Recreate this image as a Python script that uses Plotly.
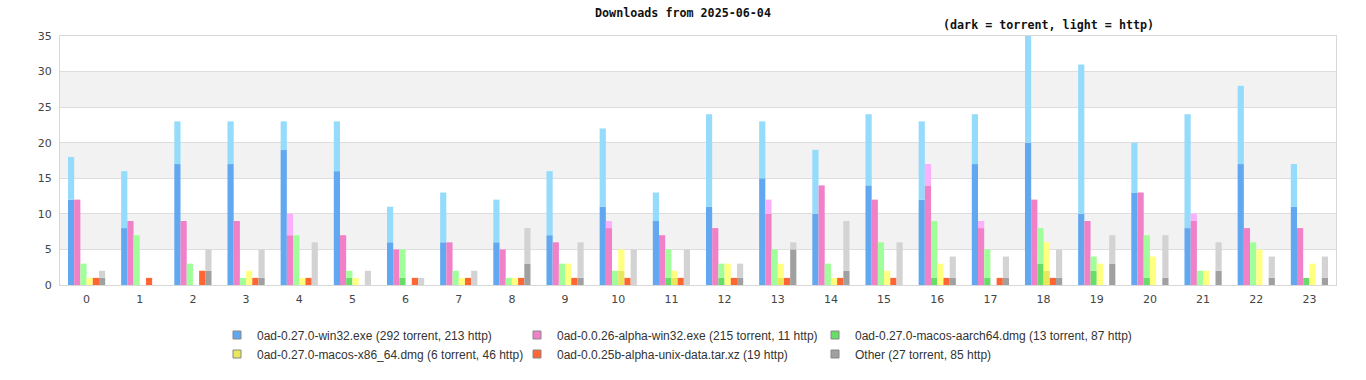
import plotly.graph_objects as go

hours = list(range(24))

series_names = [
    "0ad-0.27.0-win32.exe (292 torrent, 213 http)",
    "0ad-0.0.26-alpha-win32.exe (215 torrent, 11 http)",
    "0ad-0.27.0-macos-aarch64.dmg (13 torrent, 87 http)",
    "0ad-0.27.0-macos-x86_64.dmg (6 torrent, 46 http)",
    "0ad-0.0.25b-alpha-unix-data.tar.xz (19 http)",
    "Other (27 torrent, 85 http)",
]

# torrent counts per hour
win32_torrent = [12, 8, 17, 17, 19, 16, 6, 6, 6, 7, 11, 9, 11, 15, 10, 14, 12, 17, 20, 10, 13, 8, 17, 11]
alpha26_torrent = [12, 9, 9, 9, 7, 7, 5, 6, 5, 6, 8, 7, 8, 10, 14, 12, 14, 8, 12, 9, 13, 9, 8, 8]
aarch64_torrent = [0, 0, 0, 0, 0, 1, 1, 0, 0, 0, 0, 1, 1, 0, 0, 0, 1, 1, 3, 2, 1, 0, 0, 1]
x86_torrent = [0, 0, 0, 0, 0, 0, 0, 0, 0, 0, 2, 1, 0, 1, 0, 0, 0, 0, 2, 0, 0, 0, 0, 0]
data25b_torrent = [0] * 24
other_torrent = [1, 0, 2, 1, 0, 0, 0, 0, 3, 1, 0, 0, 1, 5, 2, 0, 1, 1, 1, 3, 1, 2, 1, 1]

# http counts per hour
win32_http = [6, 8, 6, 6, 4, 7, 5, 7, 6, 9, 11, 4, 13, 8, 9, 10, 11, 7, 15, 21, 7, 16, 11, 6]
alpha26_http = [0, 0, 0, 0, 3, 0, 0, 0, 0, 0, 1, 0, 0, 2, 0, 0, 3, 1, 0, 0, 0, 1, 0, 0]
aarch64_http = [3, 7, 3, 1, 7, 1, 4, 2, 1, 3, 2, 4, 2, 5, 3, 6, 8, 4, 5, 2, 6, 2, 6, 0]
x86_http = [1, 0, 0, 2, 1, 1, 0, 1, 1, 3, 3, 1, 3, 2, 1, 2, 3, 0, 4, 3, 4, 2, 5, 3]
data25b_http = [1, 1, 2, 1, 1, 0, 1, 1, 1, 1, 1, 1, 1, 1, 1, 1, 1, 1, 1, 0, 0, 0, 0, 0]
other_http = [1, 0, 3, 4, 6, 2, 1, 2, 5, 5, 5, 5, 2, 1, 7, 6, 3, 3, 4, 4, 6, 4, 3, 3]

torrents = [win32_torrent, alpha26_torrent, aarch64_torrent, x86_torrent, data25b_torrent, other_torrent]
https = [win32_http, alpha26_http, aarch64_http, x86_http, data25b_http, other_http]

dark_colors = ["#62a8f0", "#f080c8", "#66dd66", "#e8e85a", "#ff6633", "#a0a0a0"]
light_colors = ["#94dbfc", "#fbb0fb", "#a0ff9a", "#ffff80", "#ff6633", "#d3d3d3"]

fig = go.Figure()

for i in range(6):
    fig.add_trace(go.Bar(
        x=hours, y=torrents[i], offsetgroup=str(i),
        marker=dict(color=dark_colors[i], line=dict(width=0)),
        showlegend=False, hoverinfo="skip",
    ))
    fig.add_trace(go.Bar(
        x=hours, y=https[i], base=torrents[i], offsetgroup=str(i),
        marker=dict(color=light_colors[i], line=dict(width=0)),
        showlegend=False, hoverinfo="skip",
    ))

# one legend box per entry, laid out as a 3x2 grid below the plot
legend_ids = ["legend"] + ["legend%d" % k for k in range(2, 7)]
for i in range(6):
    fig.add_trace(go.Scatter(
        x=[None], y=[None], mode="markers", name=series_names[i],
        legend=legend_ids[i],
        marker=dict(symbol="square", size=8, color=dark_colors[i],
                    line=dict(color="#888888", width=1)),
    ))

# alternating background bands
shapes = []
for lo in (5, 15, 25):
    shapes.append(dict(type="rect", xref="paper", yref="y", x0=0, x1=1, y0=lo, y1=lo + 5,
                       fillcolor="#f2f2f2", line=dict(width=0), layer="below"))

legend_lefts = [217, 517, 815]
legend_rows = [335, 354]
legend_layouts = {}
for i, lid in enumerate(legend_ids):
    legend_layouts[lid] = dict(
        orientation="h", xref="container", yref="container",
        x=legend_lefts[i % 3] / 1366, xanchor="left",
        y=1 - legend_rows[i // 3] / 380, yanchor="middle",
        font=dict(family="Liberation Sans", size=12, color="#333333"),
        itemsizing="trace", bgcolor="rgba(0,0,0,0)",
    )

fig.update_layout(
    width=1366, height=380,
    margin=dict(l=60, r=30, t=36, b=95),
    paper_bgcolor="white", plot_bgcolor="white",
    barmode="group", bargap=0.3, bargroupgap=0,
    shapes=shapes,
    title=dict(text="<b>Downloads from 2025-06-04</b>", x=0.5, xanchor="center",
               y=1 - 13 / 380, yanchor="middle",
               font=dict(family="DejaVu Sans Mono", size=11.7, color="#111111")),
    annotations=[dict(text="<b>(dark = torrent, light = http)</b>", xref="paper", yref="paper",
                      x=(1048 - 60) / 1276, y=1 + 11 / 249, xanchor="center", yanchor="middle",
                      showarrow=False,
                      font=dict(family="DejaVu Sans Mono", size=11.7, color="#111111"))],
    xaxis=dict(range=[-0.5, 23.5], tickmode="array", tickvals=hours,
               ticktext=[str(h) for h in hours], showgrid=False, zeroline=False,
               showline=True, linecolor="#d8d8d8", mirror=True, ticks="",
               ticklabelstandoff=4,
               tickfont=dict(family="DejaVu Sans", size=11, color="#444444")),
    yaxis=dict(range=[0, 35], tickvals=[0, 5, 10, 15, 20, 25, 30, 35],
               showgrid=True, gridcolor="#dddddd", zeroline=False,
               showline=True, linecolor="#d8d8d8", mirror=True, ticks="",
               ticklabelstandoff=5,
               tickfont=dict(family="DejaVu Sans", size=11, color="#444444")),
    **legend_layouts,
)

fig.write_html("out.html", config={"displayModeBar": False})

# remove default browser body margin so the figure sits at the page origin
with open("out.html", "r", encoding="utf-8") as f:
    html = f.read()
html = html.replace("<head>", "<head><style>html,body{margin:0;padding:0;}</style>", 1)
with open("out.html", "w", encoding="utf-8") as f:
    f.write(html)
